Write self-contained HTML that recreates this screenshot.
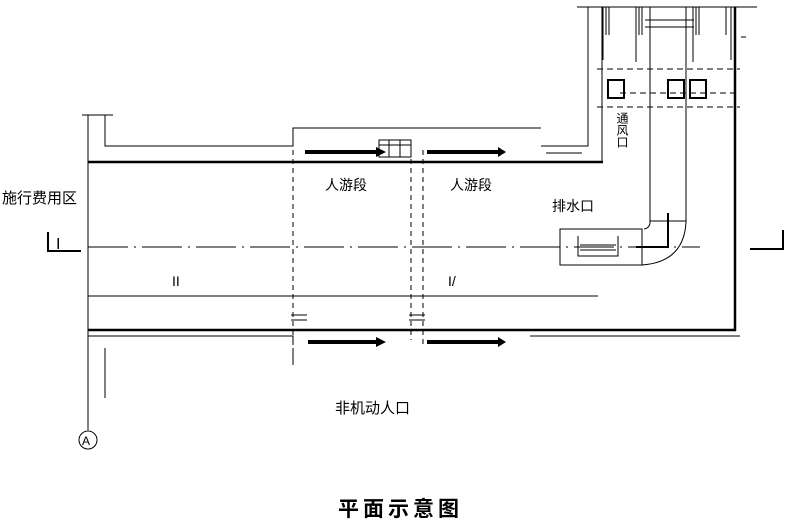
<!DOCTYPE html>
<html><head><meta charset="utf-8"><style>
html,body{margin:0;padding:0;background:#fff;}
svg{display:block;}
text{font-family:"Liberation Sans","Noto Sans CJK SC",sans-serif;fill:#000;}
</style></head><body>
<svg width="785" height="521" viewBox="0 0 785 521" xmlns="http://www.w3.org/2000/svg">
<g stroke="#000" fill="none" stroke-width="1">
<line x1="88" y1="115" x2="88" y2="430"/>
<line x1="82" y1="115" x2="113" y2="115"/>
<polyline points="105,115 105,146 293,146 293,128 541,128"/>
<polyline points="541,146 588,146 588,7"/>
<line x1="577" y1="7" x2="757" y2="7"/>
<line x1="602" y1="7" x2="602" y2="162"/>
<line x1="546" y1="153" x2="582" y2="153"/>
<line x1="88" y1="162" x2="603" y2="162" stroke-width="2.5"/>
<line x1="735" y1="7" x2="735" y2="331" stroke-width="2.5"/>
<line x1="88" y1="330" x2="736" y2="330" stroke-width="2.5"/>
<g stroke-width="1">
<line x1="603" y1="7" x2="603" y2="60"/><line x1="606" y1="7" x2="606" y2="35"/><line x1="609" y1="7" x2="609" y2="35"/>
<line x1="636" y1="7" x2="636" y2="62"/><line x1="639" y1="7" x2="639" y2="35"/><line x1="642" y1="7" x2="642" y2="35"/>
<line x1="693" y1="7" x2="693" y2="62"/><line x1="696" y1="7" x2="696" y2="35"/><line x1="699" y1="7" x2="699" y2="35"/>
<line x1="726" y1="7" x2="726" y2="35"/><line x1="731" y1="7" x2="731" y2="60"/>
<line x1="645" y1="20" x2="694" y2="20"/><line x1="645" y1="27" x2="694" y2="27"/>
<line x1="741" y1="37" x2="746" y2="37"/>
</g>
<line x1="650" y1="7" x2="650" y2="222"/>
<line x1="686" y1="7" x2="686" y2="222"/>
<path d="M650 222 Q650 228 644 229"/>
<path d="M686 222 Q684 262 642 265"/>
<polyline points="650,221 686,221"/>
<polyline points="668,213 668,247 636,247" stroke-width="2"/>
<g stroke-dasharray="6,4">
<line x1="597" y1="69" x2="740" y2="69"/>
<line x1="597" y1="107" x2="740" y2="107"/>
<line x1="620" y1="93" x2="740" y2="93"/>
</g>
<rect x="608" y="80" width="16" height="18" stroke-width="2"/>
<rect x="668" y="80" width="16" height="18" stroke-width="2"/>
<rect x="690" y="80" width="16" height="18" stroke-width="2"/>
<rect x="560" y="229" width="82" height="36"/>
<polyline points="578,236 578,256 618,256 618,236"/>
<line x1="580" y1="245" x2="616" y2="245"/><line x1="580" y1="250" x2="616" y2="250"/>
<line x1="88" y1="247" x2="700" y2="247" stroke-dasharray="40,6,2,6"/>
<line x1="88" y1="296" x2="598" y2="296"/>
<polyline points="88,336 293,336 293,345"/>
<line x1="530" y1="336" x2="740" y2="336"/>
<line x1="105" y1="348" x2="105" y2="398"/>
<line x1="293" y1="348" x2="293" y2="365"/>
<g stroke-dasharray="5,4">
<line x1="293" y1="150" x2="293" y2="340"/>
<line x1="411" y1="150" x2="411" y2="340"/>
<line x1="423" y1="150" x2="423" y2="345"/>
</g>
<rect x="379" y="140" width="32" height="17"/>
<line x1="389" y1="140" x2="389" y2="157"/><line x1="400" y1="140" x2="400" y2="157"/>
<line x1="379" y1="145" x2="411" y2="145"/>
<g stroke-width="4">
<line x1="305" y1="152" x2="378" y2="152"/>
<line x1="427" y1="152" x2="500" y2="152"/>
<line x1="308" y1="342" x2="380" y2="342"/>
<line x1="427" y1="342" x2="500" y2="342"/>
</g>
<g fill="#000" stroke="none">
<polygon points="376,147 386,152 376,157"/>
<polygon points="498,147 506,152 498,157"/>
<polygon points="376,337 386,342 376,347"/>
<polygon points="498,337 506,342 498,347"/>
</g>
<g stroke-width="1">
<line x1="291" y1="315" x2="307" y2="315"/><line x1="291" y1="320" x2="307" y2="320"/>
<line x1="409" y1="315" x2="425" y2="315"/><line x1="409" y1="320" x2="425" y2="320"/>
</g>
<polyline points="48,232 48,251 81,251" stroke-width="2"/>
<polyline points="783,230 783,249 750,249" stroke-width="2"/>
<circle cx="88" cy="440" r="9"/>
</g>
<g font-size="13">
<text x="56" y="249" font-size="16" font-family="'Liberation Serif',serif">I</text>
<text x="2" y="203" font-size="15" fill="#555">施行费用区</text>
<text x="325" y="190" font-size="14" fill="#555">人游段</text>
<text x="450" y="190" font-size="14" fill="#555">人游段</text>
<text x="552" y="211" font-size="14" fill="#555">排水口</text>
<text x="172" y="286" font-size="14">II</text>
<text x="448" y="286" font-size="14">I/</text>
<text x="335" y="413" font-size="15" fill="#555">非机动人口</text>
<text x="622" y="112" font-size="12" fill="#555" writing-mode="tb">通风口</text>
<text x="82" y="445" font-size="12">A</text>
</g>
<text x="338" y="516" font-size="21" font-weight="bold" font-family="'Noto Serif CJK SC','Noto Sans CJK SC',serif" letter-spacing="4">平面示意图</text>
</svg>
</body></html>
